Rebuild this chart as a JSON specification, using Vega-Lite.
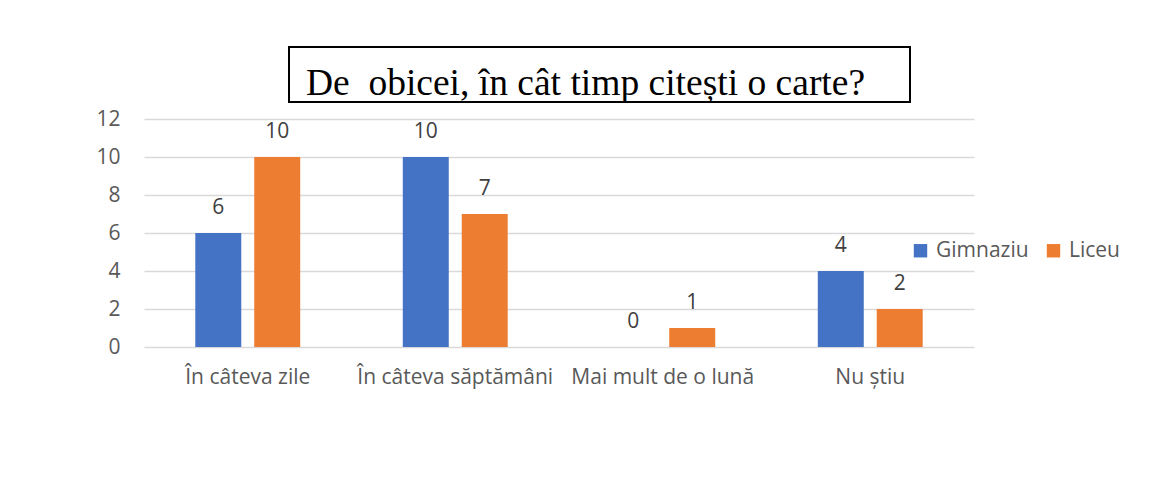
{
  "$schema": "https://vega.github.io/schema/vega-lite/v6.json",
  "background": "white",
  "padding": {"top": 46, "left": 95, "right": 5, "bottom": 5},
  "config": {"font": "Open Sans", "view": {"stroke": null}},
  "spacing": 4,
  "center": false,
  "resolve": {"legend": {"color": "independent"}},
  "vconcat": [
    {
      "spacing": 0,
      "hconcat": [
        {
          "width": 144,
          "height": 55,
          "data": {"values": []},
          "mark": {"type": "text"},
          "encoding": {}
        },
        {
          "width": 621,
          "height": 55,
          "view": {"stroke": "black", "strokeWidth": 2},
          "data": {"values": [{"title": "De\u00a0 obicei, în cât timp citești o carte?"}]},
          "mark": {"type": "text", "font": "Liberation Serif", "fontSize": 37.5, "color": "black", "baseline": "alphabetic", "dx": -14, "dy": 20.5},
          "encoding": {"text": {"field": "title"}}
        }
      ]
    },
    {
      "width": 830,
      "height": 228,
      "data": {
        "values": [
          {"category": "În câteva zile", "group": "Gimnaziu", "value": 6},
          {"category": "În câteva zile", "group": "Liceu", "value": 10},
          {"category": "În câteva săptămâni", "group": "Gimnaziu", "value": 10},
          {"category": "În câteva săptămâni", "group": "Liceu", "value": 7},
          {"category": "Mai mult de o lună", "group": "Gimnaziu", "value": 0},
          {"category": "Mai mult de o lună", "group": "Liceu", "value": 1},
          {"category": "Nu știu", "group": "Gimnaziu", "value": 4},
          {"category": "Nu știu", "group": "Liceu", "value": 2}
        ]
      },
      "encoding": {
        "x": {
          "field": "category",
          "type": "nominal",
          "sort": null,
          "scale": {"paddingInner": 0, "paddingOuter": 0},
          "axis": {"title": null, "labelAngle": 0, "domain": false, "ticks": false, "labelFontSize": 21, "labelColor": "#595959", "labelPadding": 19, "labelLimit": 400}
        },
        "xOffset": {
          "field": "group",
          "sort": ["Gimnaziu", "Liceu"],
          "scale": {"paddingInner": 0.22, "paddingOuter": 0.87}
        },
        "y": {
          "field": "value",
          "type": "quantitative",
          "scale": {"domain": [0, 12]},
          "axis": {"title": null, "values": [0, 2, 4, 6, 8, 10, 12], "grid": true, "gridColor": "#d9d9d9", "gridWidth": 1.5, "domain": false, "ticks": false, "labelFontSize": 21, "labelColor": "#595959", "labelPadding": 24}
        }
      },
      "layer": [
        {
          "mark": {"type": "bar"},
          "encoding": {
            "color": {
              "field": "group",
              "type": "nominal",
              "scale": {"domain": ["Gimnaziu", "Liceu"], "range": ["#4472C4", "#ED7D31"]},
              "legend": {"title": null, "orient": "none", "legendX": 766, "legendY": 121, "direction": "horizontal", "symbolType": "square", "symbolSize": 180, "symbolStrokeWidth": 0, "labelFontSize": 21, "labelColor": "#595959", "columnPadding": 14, "labelOffset": 5, "padding": 0}
            }
          }
        },
        {
          "mark": {"type": "text", "dy": -25, "fontSize": 21, "color": "#404040"},
          "encoding": {"text": {"field": "value", "type": "quantitative"}}
        }
      ]
    }
  ]
}
